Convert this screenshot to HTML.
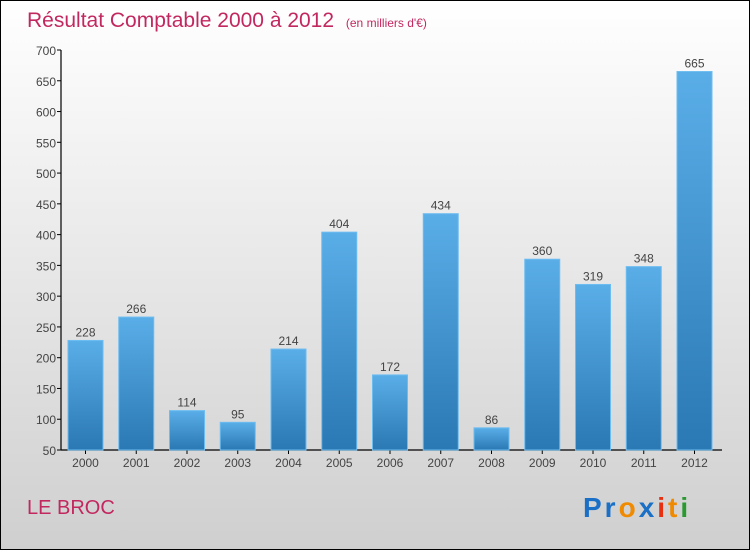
<!DOCTYPE html>
<html><head><meta charset="utf-8"><style>
body{margin:0}
svg{display:block;font-family:"Liberation Sans",sans-serif}
</style></head><body>
<svg width="750" height="550">
<defs>
<linearGradient id="bg" x1="0" y1="0" x2="0" y2="1"><stop offset="0" stop-color="#ffffff"/><stop offset="1" stop-color="#cfcfcf"/></linearGradient>
<linearGradient id="bar" x1="0" y1="0" x2="0" y2="1"><stop offset="0" stop-color="#5aaee8"/><stop offset="1" stop-color="#2a78b4"/></linearGradient>
</defs>
<rect x="0.5" y="0.5" width="749" height="549" fill="url(#bg)" stroke="#000"/>
<text x="27" y="27" font-size="21" fill="#c2285f">Résultat Comptable 2000 à 2012 <tspan font-size="12" dx="6">(en milliers d'€)</tspan></text>
<g id="axes"></g><g id="bars"></g>
<text x="27" y="514" font-size="20" fill="#c2285f">LE BROC</text>
<text x="583" y="517" font-size="28" font-weight="bold" letter-spacing="3"><tspan fill="#1a6fc6">Pr</tspan><tspan fill="#f08a00">o</tspan><tspan fill="#1a6fc6">x</tspan><tspan fill="#e83010">i</tspan><tspan fill="#f08a00">t</tspan><tspan fill="#2a9a30">i</tspan></text>
</svg>
<script>
const years=["2000","2001","2002","2003","2004","2005","2006","2007","2008","2009","2010","2011","2012"];
const values=[228,266,114,95,214,404,172,434,86,360,319,348,665];
const ticks=[50,100,150,200,250,300,350,400,450,500,550,600,650,700];
const NS="http://www.w3.org/2000/svg";
const y=v=>450-(v-50)*400/650;
const x=i=>85.5+i*50.75;
function mk(t,a,p){const e=document.createElementNS(NS,t);for(const k in a)e.setAttribute(k,a[k]);p.appendChild(e);return e;}
const ax=document.getElementById('axes'),bg=document.getElementById('bars');
const yl=mk('line',{x1:61,y1:50,x2:61,y2:450,stroke:'#000','stroke-width':1.2},ax);


const xl=mk('line',{x1:61,y1:450,x2:722,y2:450,stroke:'#000','stroke-width':1.2},ax);


ticks.forEach(t=>{
 mk('line',{x1:57,y1:y(t),x2:61,y2:y(t),stroke:'#000'},ax);
 const tx=mk('text',{x:56,y:y(t)+5,'font-size':12,fill:'#444','text-anchor':'end'},ax);
 tx.textContent=t;
 
 
});
years.forEach((yr,i)=>{
 const r=mk('rect',{x:x(i)-17.5,y:y(values[i]),width:35,height:450-y(values[i]),fill:'url(#bar)',stroke:'#6cbcf0','stroke-width':1},bg);
 
 
 mk('line',{x1:x(i),y1:450,x2:x(i),y2:454,stroke:'#000'},ax);
 const l=mk('text',{x:x(i),y:467,'font-size':12,fill:'#444','text-anchor':'middle'},ax);
 l.textContent=yr;
 
 
 const v=mk('text',{x:x(i),y:y(values[i])-4,'font-size':12,fill:'#444','text-anchor':'middle'},bg);
 v.textContent=values[i];
 
 
});
</script>
</body></html>
